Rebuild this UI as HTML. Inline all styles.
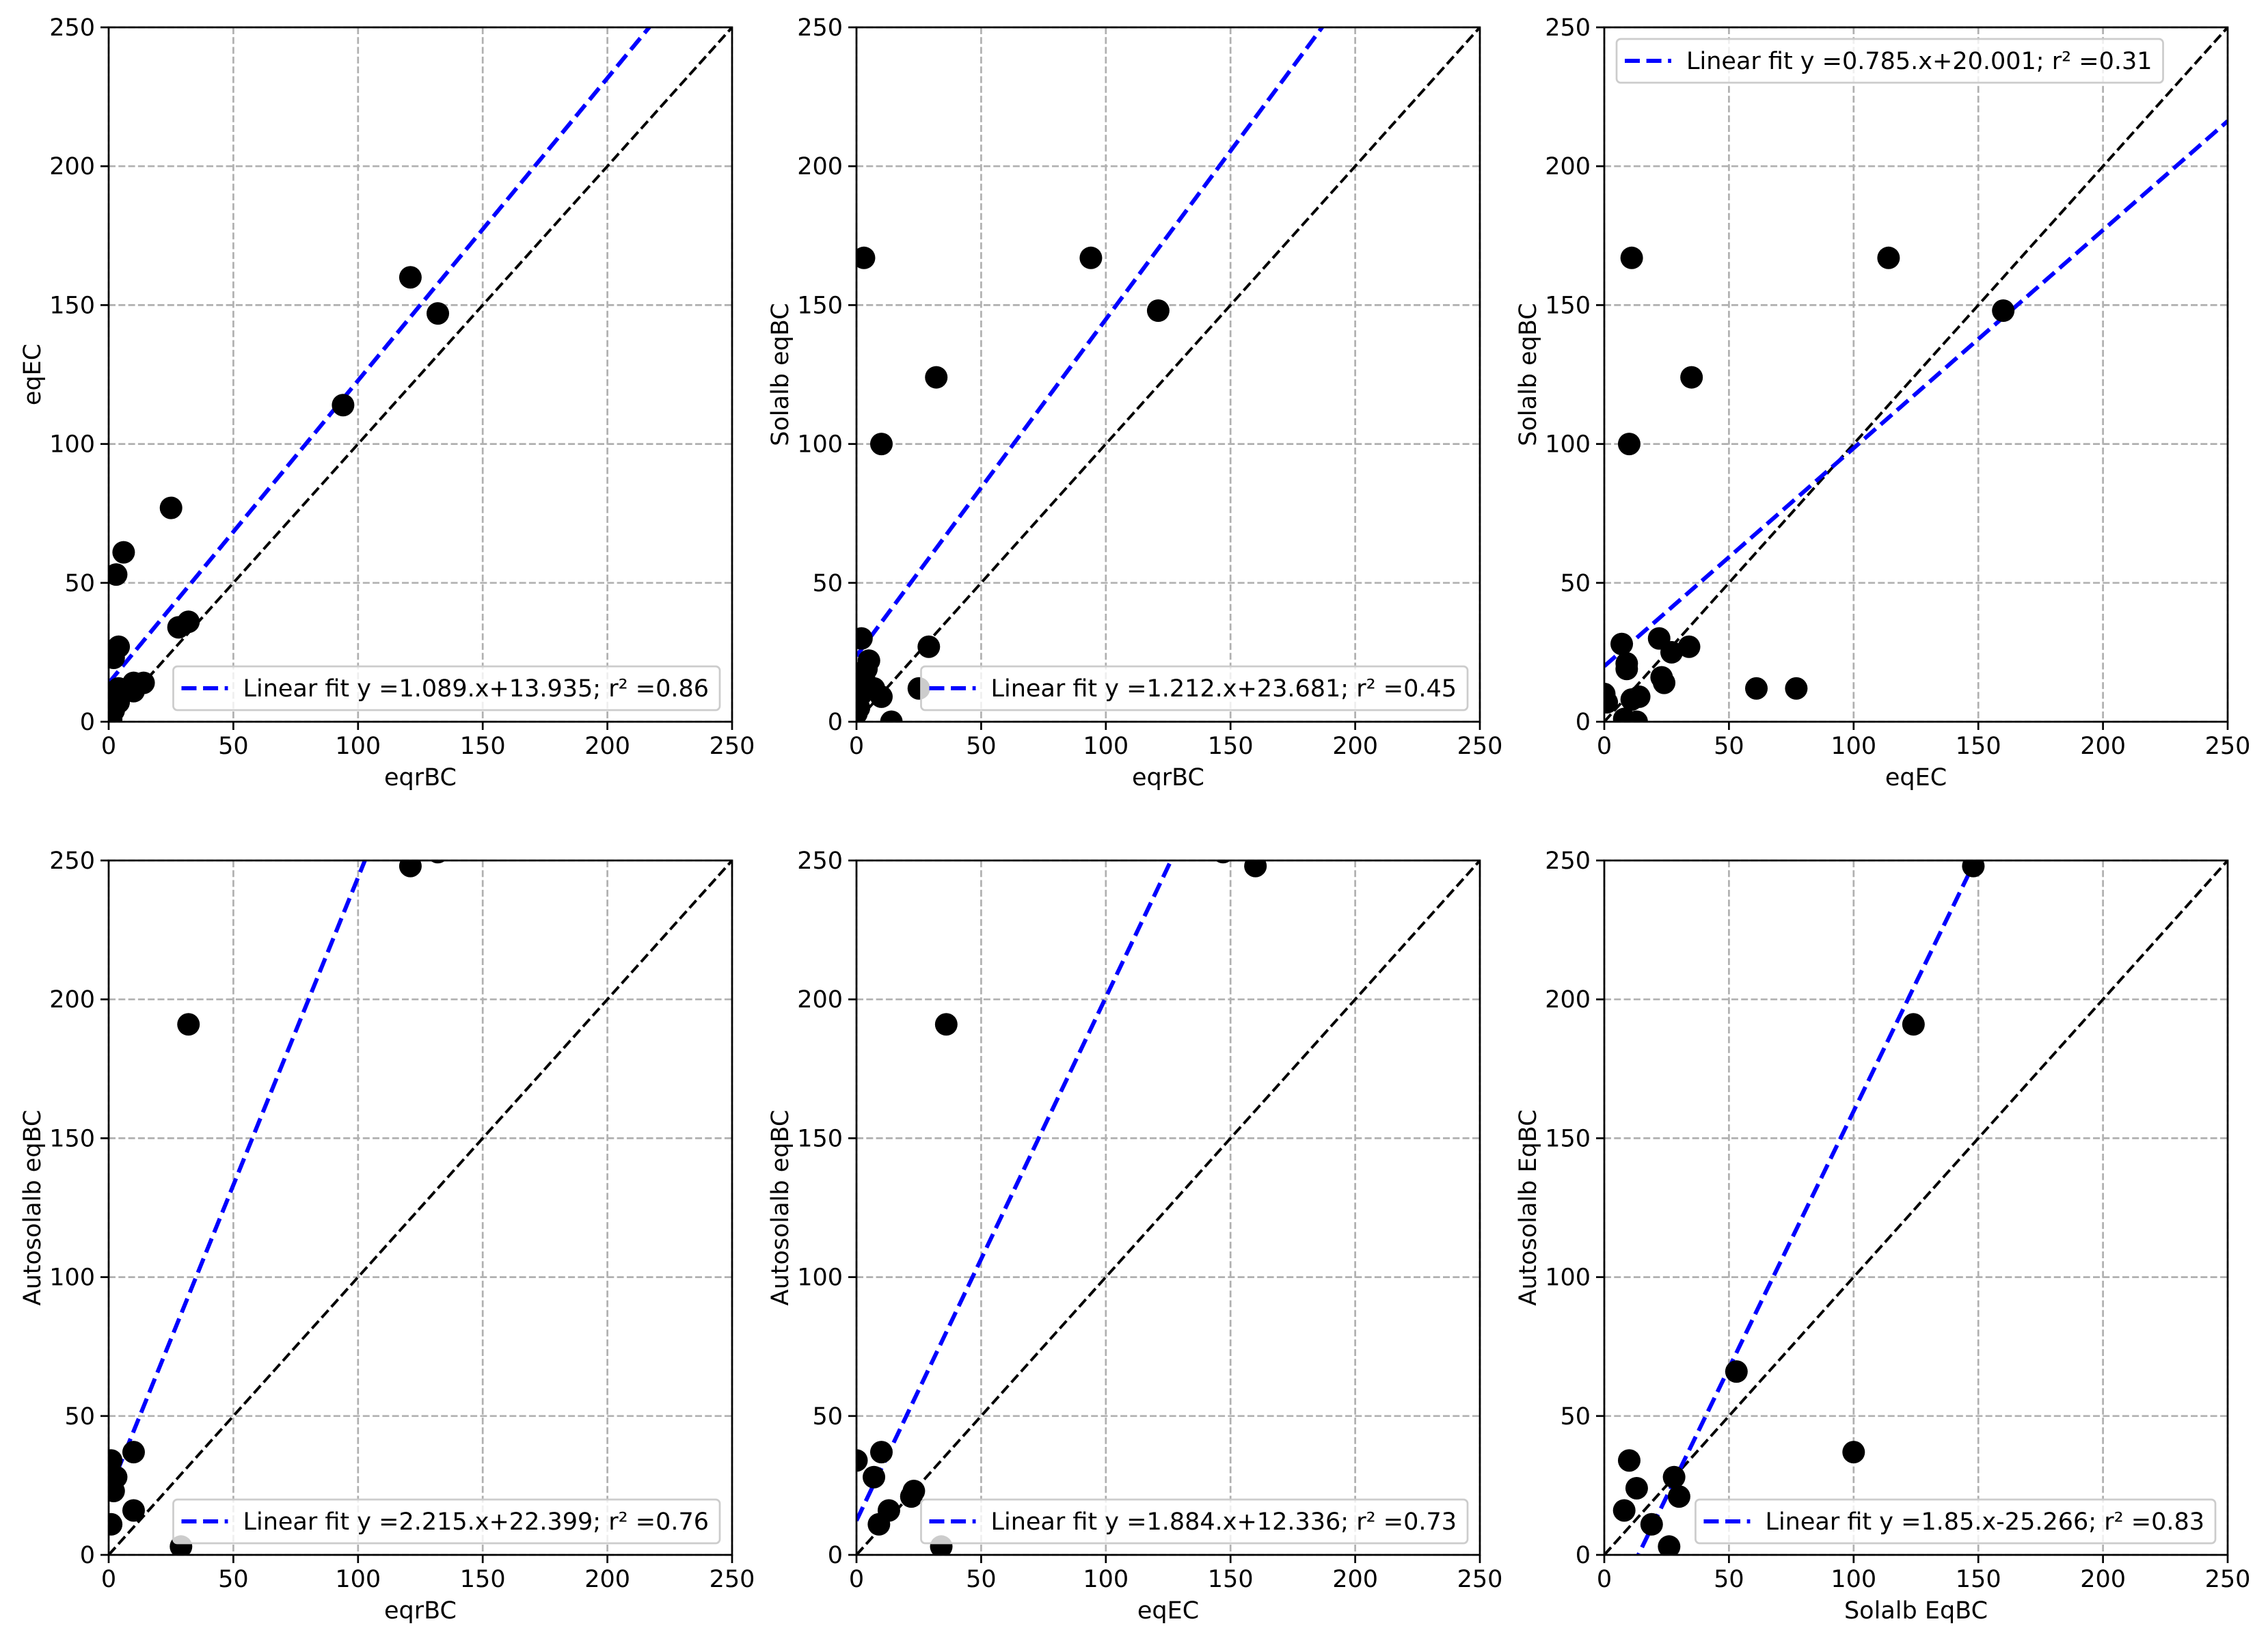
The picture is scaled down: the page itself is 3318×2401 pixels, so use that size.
<!DOCTYPE html>
<html><head><meta charset="utf-8">
<style>
html,body{margin:0;padding:0;background:#fff;}
svg{display:block;font-family:"DejaVu Sans","Liberation Sans",sans-serif;}
</style></head>
<body>
<svg id="fig" width="3318" height="2401" viewBox="0 0 3318 2401" xmlns="http://www.w3.org/2000/svg">
<rect width="3318" height="2401" fill="#fff"/>
</svg>
<script>
const ticks = [0, 50, 100, 150, 200, 250];
const tickLabels = ["0", "50", "100", "150", "200", "250"];

const p1x = [121,132,94,25,6,3,28,32,4,2,10,14,10,4,4,2,1,0];
const p1y = [160,147,114,77,61,53,34,36,27,23,14,14,11,12,7,4,1,9];
const p2x = [94,121,3,32,10,29,25,10,14,2,5,3,2,7,1,0,4];
const p2y = [167,148,167,124,100,27,12,9,0,30,22,16,10,12,5,3,19];
const p3x = [11,114,160,35,10,22,7,34,27,9,9,23,24,61,77,14,11,0,1,13,8];
const p3y = [167,167,148,124,100,30,28,27,25,21,19,16,14,12,12,9,8,10,7,0,1];
const p4x = [121,132,32,10,1,3,2,1,10,1,29];
const p4y = [248,253,191,37,34,28,23,26,16,11,3];
const p5x = [147,160,36,10,0,7,22,23,13,9,34];
const p5y = [253,248,191,37,34,28,21,23,16,11,3];
const p6x = [148,124,53,100,10,28,13,30,8,19,26];
const p6y = [248,191,66,37,34,28,24,21,16,11,3];

const slopes = [1.089, 1.212, 0.785, 2.215, 1.884, 1.85];
const intercepts = [13.935, 23.681, 20.001, 22.399, 12.336, -25.266];
const legendTexts = [
 "Linear fit y =1.089.x+13.935; r² =0.86",
 "Linear fit y =1.212.x+23.681; r² =0.45",
 "Linear fit y =0.785.x+20.001; r² =0.31",
 "Linear fit y =2.215.x+22.399; r² =0.76",
 "Linear fit y =1.884.x+12.336; r² =0.73",
 "Linear fit y =1.85.x-25.266; r² =0.83"];
const xLabels = ["eqrBC","eqrBC","eqEC","eqrBC","eqEC","Solalb EqBC"];
const yLabels = ["eqEC","Solalb eqBC","Solalb eqBC","Autosolalb eqBC","Autosolalb eqBC","Autosolalb EqBC"];

const NS = "http://www.w3.org/2000/svg";
const svg = document.getElementById('fig');
function mk(tag, attrs, parent){
  const e = document.createElementNS(NS, tag);
  for (const k in attrs) e.setAttribute(k, attrs[k]);
  (parent||svg).appendChild(e);
  return e;
}
const lefts = [159, 1253, 2347];
const tops = [40, 1259];
const W = 912, H = 1016;
const FS = 35;
const xs = [p1x,p2x,p3x,p4x,p5x,p6x];
const ys = [p1y,p2y,p3y,p4y,p5y,p6y];

for (let i = 0; i < 6; i++) {
  const L = lefts[i%3], T = tops[Math.floor(i/3)];
  const sx = v => L + v/250*W;
  const sy = v => T + H - v/250*H;
  const g = mk('g', {});
  
  
  const cid = 'clip' + i;
  const cp = mk('clipPath', {id: cid}, g);
  mk('rect', {x: L, y: T, width: W, height: H}, cp);
  const grid = mk('g', {stroke:'#b0b0b0','stroke-width':2.7,'stroke-dasharray':'10 4.3'}, g);
  
  
  ticks.forEach(t => {
    mk('line', {x1:sx(t), x2:sx(t), y1:T, y2:T+H}, grid);
    mk('line', {x1:L, x2:L+W, y1:sy(t), y2:sy(t)}, grid);
  });
  const plot = mk('g', {'clip-path': 'url(#'+cid+')'}, g);
  const one = mk('line', {x1:sx(0), y1:sy(0), x2:sx(250), y2:sy(250), stroke:'#000','stroke-width':4,'stroke-dasharray':'14.8 6.4'}, plot);
  
  
  const x0 = 0, x1 = 250;
  const fit = mk('line', {x1:sx(x0), y1:sy(slopes[i]*x0+intercepts[i]), x2:sx(x1), y2:sy(slopes[i]*x1+intercepts[i]), stroke:'#0000ff','stroke-width':6,'stroke-dasharray':'22 9.6'}, plot);
  
  
  xs[i].forEach((x, j) => {
    const c = mk('circle', {cx:sx(x), cy:sy(ys[i][j]), r:16.5, fill:'#000'}, plot);
    
    
  });
  const fr = mk('rect', {x:L, y:T, width:W, height:H, fill:'none', stroke:'#000','stroke-width':2.7}, g);
  
  
  ticks.forEach((t, k) => {
    mk('line', {x1:sx(t), x2:sx(t), y1:T+H, y2:T+H+12, stroke:'#000','stroke-width':2.7}, g);
    mk('line', {x1:L-12, x2:L, y1:sy(t), y2:sy(t), stroke:'#000','stroke-width':2.7}, g);
    const xl = mk('text', {x:sx(t), y:T+H+47, 'font-size':FS, 'text-anchor':'middle'}, g);
    xl.textContent = tickLabels[k];
    
    
    const yl = mk('text', {x:L-20, y:sy(t)+12, 'font-size':FS, 'text-anchor':'end'}, g);
    yl.textContent = tickLabels[k];
    
    
  });
  const xt = mk('text', {x:L+W/2, y:T+H+93, 'font-size':FS, 'text-anchor':'middle'}, g);
  xt.textContent = xLabels[i];
  
  
  const yx = L - 100;
  const yt = mk('text', {x:yx, y:T+H/2, 'font-size':FS, 'text-anchor':'middle', transform:'rotate(-90 '+yx+' '+(T+H/2)+')'}, g);
  yt.textContent = yLabels[i];
  
  
  const lg = mk('g', {}, g);
  
  
  const box = mk('rect', {rx:6, fill:'#fff','fill-opacity':0.8, stroke:'#cccccc','stroke-width':2.7}, lg);
  const txt = mk('text', {'font-size':FS}, lg);
  txt.textContent = legendTexts[i];
  
  
  const tw = txt.getComputedTextLength();
  const bw = tw + 118, bh = 64;
  let bx, by;
  if (i === 2) { bx = L + 18; by = T + 17; } else { bx = L + W - 18 - bw; by = T + H - 17 - bh; }
  box.setAttribute('x', bx); box.setAttribute('y', by);
  box.setAttribute('width', bw); box.setAttribute('height', bh);
  txt.setAttribute('x', bx + 102); txt.setAttribute('y', by + bh/2 + 12);
  const ll = mk('line', {x1:bx+12, x2:bx+80, y1:by+bh/2, y2:by+bh/2, stroke:'#0000ff','stroke-width':6,'stroke-dasharray':'22 9.6'}, lg);
  
  
}
</script>
</body></html>
